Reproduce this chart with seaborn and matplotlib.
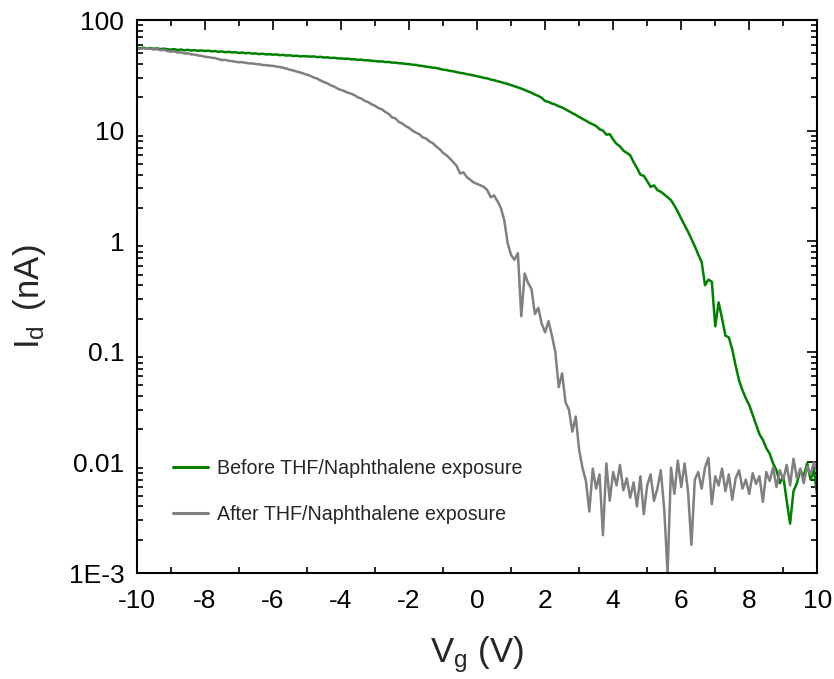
import numpy as np
import pandas as pd
import matplotlib
matplotlib.use("Agg")
import matplotlib.pyplot as plt
import seaborn as sns
from matplotlib.ticker import FixedLocator, FixedFormatter, MultipleLocator, LogLocator, NullFormatter

# ---------------- data ----------------
vg = np.round(np.linspace(-10, 10, 201), 1)

before = [
    56.0, 55.5, 56.3, 55.2, 55.8, 55.0, 55.4, 54.6, 55.1, 54.4,
    54.0, 54.5, 53.6, 54.1, 53.2, 53.8, 53.0, 53.4, 52.7, 53.1,
    52.5, 52.9, 52.1, 52.4, 51.6, 52.0, 51.2, 51.6, 50.9, 51.2,
    50.4, 50.8, 50.1, 50.5, 49.6, 49.9, 49.2, 49.6, 48.9, 49.1,
    48.6, 48.9, 48.1, 48.4, 47.7, 48.0, 47.3, 47.6, 46.9, 47.2,
    47.0, 46.7, 46.9, 46.2, 46.5, 45.8, 46.0, 45.4, 45.6, 45.0,
    45.0, 44.6, 44.8, 44.1, 44.2, 43.6, 43.8, 43.2, 43.3, 42.8,
    42.6, 42.2, 42.3, 41.7, 41.8, 41.2, 41.2, 40.7, 40.6, 40.1,
    40.0, 39.4, 39.3, 38.7, 38.4, 37.9, 37.6, 37.1, 36.9, 36.2,
    35.6, 35.3, 34.7, 34.4, 33.8, 33.3, 33.0, 32.4, 32.0, 31.6,
    31.0, 30.6, 30.0, 29.7, 29.0, 28.6, 28.0, 27.5, 26.9, 26.4,
    25.8, 25.2, 24.6, 24.0, 23.3, 22.6, 22.0, 21.2, 20.6, 19.8,
    18.5, 18.2, 17.6, 17.2, 16.6, 16.2, 15.6, 15.0, 14.4, 13.9,
    13.3, 12.8, 12.3, 11.8, 11.4, 11.0, 10.3, 10.0, 9.2, 9.3,
    8.3, 7.6, 7.2, 6.6, 6.3, 6.0, 5.2, 4.6, 4.0, 3.9,
    3.5, 3.1, 3.2, 2.9, 2.8, 2.65, 2.5, 2.35, 2.1, 1.85,
    1.6, 1.4, 1.22, 1.05, 0.9, 0.76, 0.65, 0.40, 0.45, 0.43,
    0.17, 0.28, 0.2, 0.14, 0.135, 0.105, 0.075, 0.055, 0.045, 0.038,
    0.033, 0.027, 0.022, 0.018, 0.016, 0.0135, 0.012, 0.0098, 0.0085, 0.0065,
    0.0075, 0.0045, 0.0028, 0.0055, 0.0065, 0.0085, 0.0075, 0.0098, 0.0070, 0.0085, 0.0050,
]

after = [
    55.5, 54.8, 55.6, 54.9, 55.2, 54.1, 54.6, 53.3, 53.8, 52.4,
    51.8, 52.1, 50.9, 51.0, 49.8, 50.0, 48.9, 48.7, 47.8, 47.5,
    46.5, 46.2, 45.6, 45.3, 44.3, 43.5, 43.6, 42.8, 42.5, 41.9,
    41.5, 41.6, 41.0, 40.6, 40.5, 40.0, 39.8, 39.2, 39.1, 38.7,
    38.5, 38.0, 37.6, 37.0, 36.4, 35.5, 35.0, 34.2, 33.6, 32.8,
    32.0, 31.3, 30.2, 29.6, 28.4, 27.5, 26.8, 25.7, 25.0, 24.0,
    23.3, 22.8, 22.0, 21.6, 20.9, 20.0, 19.5, 18.6, 18.1, 17.3,
    16.8, 16.0, 15.6, 14.8, 14.2, 13.2, 12.9, 12.0, 11.6, 11.0,
    10.6, 10.0, 9.6, 9.3, 8.7, 8.5, 8.0, 7.7, 7.2, 6.8,
    6.3, 6.0, 5.6, 5.2, 4.8, 4.1, 4.2, 3.8, 3.6, 3.4,
    3.3, 3.2, 3.1, 2.9, 2.5, 2.6, 2.3, 2.0, 1.55, 0.96,
    0.75, 0.68, 0.78, 0.21, 0.51, 0.42, 0.37, 0.22, 0.25, 0.18,
    0.15, 0.19, 0.14, 0.10, 0.048, 0.064, 0.035, 0.030, 0.019, 0.026,
    0.013, 0.0089, 0.0068, 0.0036, 0.0088, 0.0058, 0.0078, 0.0022, 0.0098, 0.0045,
    0.0082, 0.0062, 0.0095, 0.0056, 0.0072, 0.0048, 0.0066, 0.0040, 0.0075, 0.0034,
    0.0062, 0.0078, 0.0045, 0.0058, 0.0085, 0.0038, 0.0010, 0.0090, 0.0052, 0.0104,
    0.0060, 0.0098, 0.0055, 0.0018, 0.0070, 0.0082, 0.0058, 0.0090, 0.0110, 0.0042,
    0.0075, 0.0062, 0.0088, 0.0055, 0.0078, 0.0046, 0.0072, 0.0085, 0.0058, 0.0070,
    0.0052, 0.0080, 0.0064, 0.0075, 0.0044, 0.0082, 0.0068, 0.0090, 0.0060, 0.0085,
    0.0070, 0.0095, 0.0062, 0.0108, 0.0072, 0.0088, 0.0065, 0.0092, 0.0078, 0.0100, 0.0082,
]

series_names = ["Before THF/Naphthalene exposure", "After THF/Naphthalene exposure"]
series_colors = ["#008000", "#808080"]

y_ticks = [1e-3, 1e-2, 1e-1, 1, 10, 100]
y_tick_labels = ["1E-3", "0.01", "0.1", "1", "10", "100"]
x_ticks = [-10, -8, -6, -4, -2, 0, 2, 4, 6, 8, 10]

# ---------------- figure ----------------
sns.set_theme(style="white")
plt.rcParams["font.family"] = ["Liberation Sans", "DejaVu Sans"]
plt.rcParams["mathtext.fontset"] = "custom"
plt.rcParams["mathtext.rm"] = "Liberation Sans"
plt.rcParams["mathtext.it"] = "Liberation Sans:italic"
plt.rcParams["axes.unicode_minus"] = False

df = pd.DataFrame({
    "Vg": np.concatenate([vg, vg]),
    "Id": np.concatenate([before, after]),
    "series": [series_names[0]] * len(vg) + [series_names[1]] * len(vg),
})

fig = plt.figure(figsize=(8.34, 6.79), dpi=100)
ax = fig.add_axes([0.164, 0.156, 0.816, 0.8145])

sns.lineplot(data=df, x="Vg", y="Id", hue="series", hue_order=series_names,
             palette=series_colors, estimator=None, sort=False,
             linewidth=1.8, ax=ax)

ax.set_yscale("log")
ax.set_xlim(-10, 10)
ax.set_ylim(1e-3, 100)

ax.xaxis.set_major_locator(FixedLocator(x_ticks))
ax.xaxis.set_minor_locator(MultipleLocator(1))
ax.yaxis.set_major_locator(FixedLocator(y_ticks))
ax.yaxis.set_major_formatter(FixedFormatter(y_tick_labels))
ax.yaxis.set_minor_locator(LogLocator(base=10, subs=np.arange(2, 10)))
ax.yaxis.set_minor_formatter(NullFormatter())

for s in ax.spines.values():
    s.set_visible(True)
    s.set_color("black")
    s.set_linewidth(1.5)

ax.tick_params(axis="both", which="major", direction="in", length=7.5, width=1.2,
               labelsize=19, colors="black", top=True, right=True,
               labeltop=False, labelright=False)
ax.tick_params(axis="both", which="minor", direction="in", length=4, width=1.2,
               colors="black", top=True, right=True, left=True, bottom=True)
ax.tick_params(axis="x", which="major", pad=11.5)
ax.tick_params(axis="y", which="major", pad=9)

ax.set_xlabel(r"$\mathrm{V_g}$ (V)", fontsize=25, labelpad=15)
ax.set_ylabel(r"$\mathrm{I_d}\,$ (nA)", fontsize=25, labelpad=15)

leg = ax.legend(loc="lower left", bbox_to_anchor=(0.041, 0.075), frameon=False,
                fontsize=14.1, handlelength=1.8, handletextpad=0.46,
                labelspacing=1.37, borderaxespad=0)
for line in leg.get_lines():
    line.set_linewidth(2.2)

fig.savefig("out.png", dpi=100)
